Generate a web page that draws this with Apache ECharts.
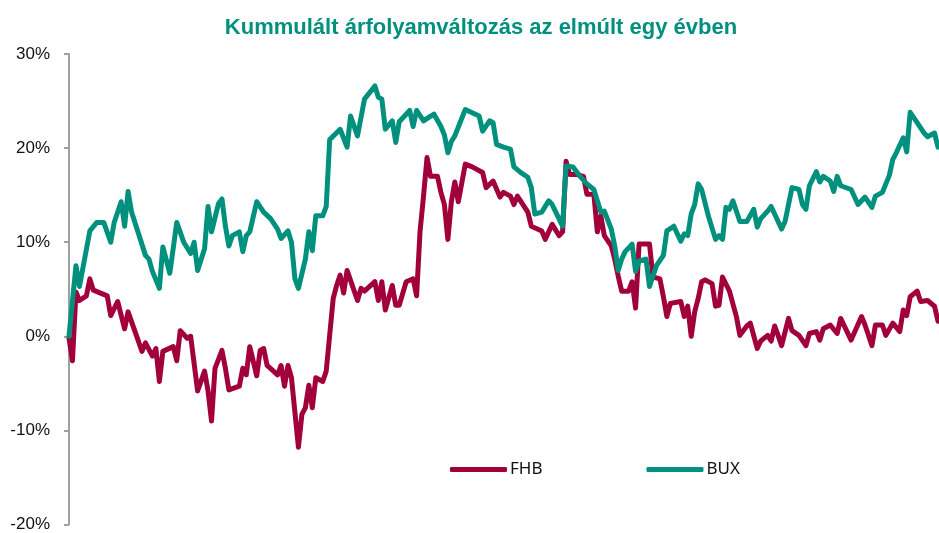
<!DOCTYPE html>
<html>
<head>
<meta charset="utf-8">
<script src="https://cdn.jsdelivr.net/npm/echarts@6/dist/echarts.min.js"></script>
<style>
  html, body { margin: 0; padding: 0; background: #fff; }
  #chart { width: 939px; height: 533px; }
</style>
</head>
<body>
<div id="chart"></div>
<script>
// kereskedési nap (0..250) és kumulált változás %-ban
const fhbDays = [0,1,2,3,5,6,7,11,12,14,16,17,21,22,24,25,26,27,30,31,32,34,35,37,39,40,41,42,44,45,46,49,50,51,52,54,55,56,57,60,61,62,63,64,66,67,68,69,70,71,73,74,76,77,78,79,80,83,84,85,88,89,90,91,93,94,95,97,99,100,101,102,103,104,106,107,108,109,110,111,112,114,116,119,120,122,124,125,127,128,129,132,133,136,137,139,141,142,143,144,146,148,149,151,152,153,154,156,157,158,159,161,162,163,164,167,168,170,171,172,173,176,177,178,179,180,181,182,183,185,186,187,188,190,192,193,195,196,198,199,201,202,203,204,205,207,208,210,212,213,215,216,217,219,221,222,225,228,229,231,232,234,235,237,239,240,241,242,244,245,247,249,250];
const fhbValues = [-0.2,-2.6,4.7,3.8,4.3,6.1,4.9,4.3,2.2,3.7,0.8,2.6,-1.6,-0.7,-2.1,-1.3,-4.8,-1.6,-1.1,-2.6,0.6,-0.2,0,-5.8,-3.7,-5.8,-9,-3.4,-1.5,-3.4,-5.7,-5.3,-3.4,-4.1,-1.1,-4.2,-1.5,-1.3,-3.1,-4.1,-3.1,-5.3,-3.1,-4.4,-11.8,-8.3,-7.6,-5.2,-7.6,-4.4,-4.8,-3.7,4,5.4,6.5,4.6,7,3.8,5.1,4.8,5.8,3.8,5.8,2.8,5.4,3.3,3.3,5.8,6.1,4.3,11.2,14.9,19,17,17,15.3,14,10.3,14.3,16.4,14.3,18.3,18,17.4,15.8,16.5,14.8,15.3,14.9,14,14.9,13.2,11.7,11.2,10.3,11.9,10.7,11.1,18.6,17.2,17.2,17,15.1,15.1,11.1,12.8,10.7,9.6,8.2,6.4,4.8,4.8,5.8,3,9.8,9.8,6.3,6.1,4.2,2.1,3.5,3.7,2.1,3.2,0,2.6,4,5.8,6,5.6,3.2,3.3,6.3,4.8,2.1,0.1,1.1,1.4,-1.3,-0.5,0.1,-0.5,1.1,0.1,-1,1.9,0.6,0.1,-1,0.3,0.5,-0.4,0.8,1.2,0.3,1.9,-0.4,2.1,1.2,-1,1.2,1.2,0.1,1.4,0.5,2.8,2.2,4.2,4.8,3.7,3.8,3.2,1.6];

const buxDays = [0,2,3,6,8,10,12,13,15,16,17,18,22,23,24,26,27,29,31,33,35,36,37,39,40,41,43,44,45,46,47,49,50,51,52,54,56,58,60,61,63,64,65,66,68,69,70,71,73,74,75,78,80,81,83,85,88,89,90,91,93,94,95,98,99,100,102,104,105,107,108,109,110,111,114,118,119,121,122,123,125,127,128,130,132,133,134,136,138,139,142,143,145,147,149,151,153,154,156,157,158,159,160,162,163,164,166,167,169,171,172,174,176,177,178,179,180,181,182,184,186,187,188,189,190,191,193,195,197,198,199,201,202,205,206,208,210,211,212,213,215,216,217,219,220,221,222,225,227,229,231,232,234,236,237,238,240,241,242,244,246,247,249,250];
const buxValues = [0,7.5,5.3,11.2,12.1,12.1,10,12.1,14.3,11.7,15.4,13.2,8.6,8.2,6.9,5.1,9.5,6.7,12.1,10,8.8,10,7,9.3,13.8,11.1,14.1,14.6,11.7,9.6,10.7,11.1,9,10.7,11.1,14.3,13.2,12.5,11.4,10.4,11.2,10,6.1,5.1,8.2,11.1,9.1,12.8,12.8,13.8,20.9,22,20.1,23.4,21.3,25.2,26.6,25.4,25.2,22,22.9,20.6,22.8,24,22.3,24,22.9,23.4,23.6,22.3,21.4,19.5,20.7,21.3,24.1,23.4,21.8,22.9,22.7,20.4,20.1,19.9,18,17.4,16.9,15.8,13,13.2,14.4,14,11.7,18.1,18,17,16.2,15.6,13.2,13.3,11.4,9.6,7,8.2,9,9.8,6.9,8,8.2,5.3,7.5,8.6,11.2,11.7,10.1,10.9,10.7,13,14,16.2,15.6,12.7,10.3,10.7,10.3,13.7,13.5,14.4,12.2,12.2,13.5,11.6,12.5,13.3,13.8,11.4,12.2,15.8,15.6,14,13.5,16,17.5,16.4,17,16.5,15.4,17,16,15.6,14,14.8,13.7,14.9,15.3,17.1,18.8,19.5,21.1,19.6,23.8,22.7,21.6,21.2,21.6,20.1];

const seriesNames = ['FHB', 'BUX'];
const seriesColors = ['#a1003a', '#00907e'];

function pairs(days, vals) {
  return days.map(function (d, i) { return [d, vals[i]]; });
}

const myChart = echarts.init(document.getElementById('chart'));

const option = {
  animation: false,
  title: {
    text: 'Kummulált árfolyamváltozás az elmúlt egy évben',
    left: 476,
    textAlign: 'center',
    top: 12,
    textStyle: {
      fontFamily: '"Liberation Sans", Arial, sans-serif',
      fontWeight: 'bold',
      fontSize: 22,
      color: '#00907e',
    },
  },
  legend: {
    left: 445,
    top: 456,
    icon: 'roundRect',
    itemWidth: 57,
    itemHeight: 5,
    itemGap: 104,
    textStyle: {
      fontFamily: '"Noto Sans", sans-serif',
      fontSize: 17,
      color: '#111',
      padding: [0, 0, 0, -2],
    },
    data: seriesNames,
  },
  grid: {
    left: 69,
    right: 1,
    top: 54,
    bottom: 6,
  },
  xAxis: {
    type: 'value',
    min: 0,
    max: 250,
    show: false,
  },
  yAxis: {
    type: 'value',
    min: -20,
    max: 30,
    interval: 10,
    axisLine: { show: true, lineStyle: { color: '#a0a0a0', width: 2 } },
    axisTick: { show: true, length: 5, lineStyle: { color: '#a0a0a0', width: 2 } },
    splitLine: { show: false },
    axisLabel: {
      formatter: '{value}%',
      margin: 19,
      fontFamily: '"Liberation Sans", Arial, sans-serif',
      fontSize: 17,
      color: '#111',
    },
  },
  series: [
    {
      name: seriesNames[0],
      type: 'line',
      data: pairs(fhbDays, fhbValues),
      showSymbol: false,
      color: seriesColors[0],
      lineStyle: { width: 5, join: 'round', cap: 'round' },
    },
    {
      name: seriesNames[1],
      type: 'line',
      data: pairs(buxDays, buxValues),
      showSymbol: false,
      color: seriesColors[1],
      lineStyle: { width: 5, join: 'round', cap: 'round' },
    },
  ],
};

option && myChart.setOption(option);
</script>
</body>
</html>
